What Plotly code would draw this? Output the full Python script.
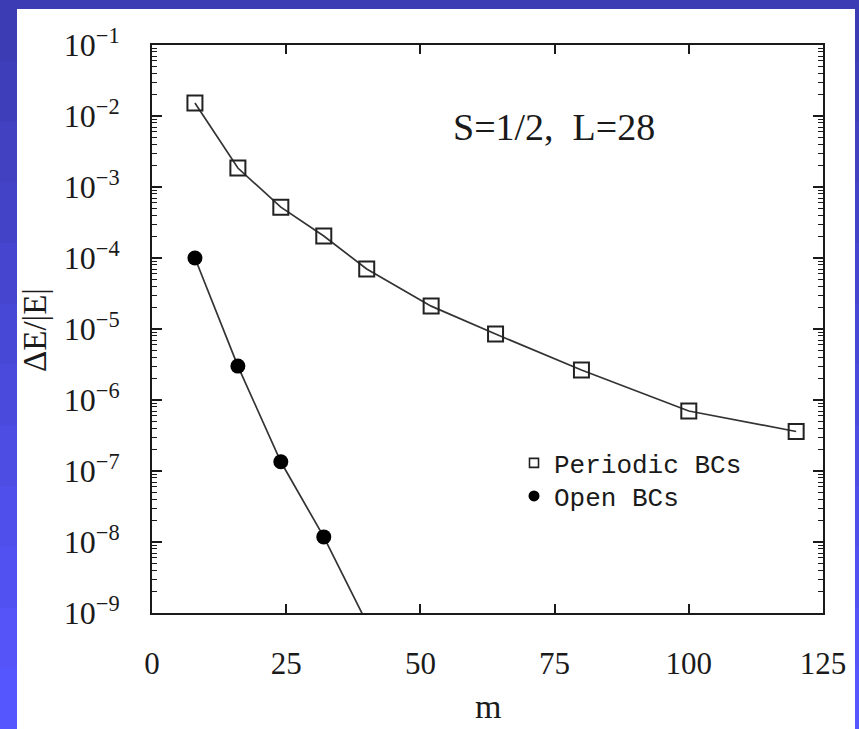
import plotly.graph_objects as go

# ---- data ----
m_periodic = [8, 16, 24, 32, 40, 52, 64, 80, 100, 120]
dE_periodic = [1.52e-2, 1.85e-3, 5.2e-4, 2.04e-4, 7.0e-5, 2.1e-5, 8.5e-6, 2.65e-6, 7.0e-7, 3.6e-7]

m_open = [8, 16, 24, 32, 40]
dE_open = [1.0e-4, 3.0e-6, 1.35e-7, 1.18e-8, 7.3e-10]

x_ticks = [0, 25, 50, 75, 100, 125]
y_exponents = [-1, -2, -3, -4, -5, -6, -7, -8, -9]
y_tickvals = [10.0 ** e for e in y_exponents]
y_ticktext = ["10<sup>\u2212%d</sup>" % (-e) for e in y_exponents]

series_names = ["Periodic BCs", "Open BCs"]
annotation_text = "S=1/2,  L=28"

# ---- layout geometry ----
W, H = 859, 729
ML, MR, MT, MB = 152, 36, 45, 116
PW, PH = W - ML - MR, H - MT - MB

def px_to_paper_x(px):
    return (px - ML) / PW

def px_to_paper_y(py):
    return (H - MB - py) / PH

serif = "Liberation Serif"
mono = "Liberation Mono"
ink = "#1a1a1a"

fig = go.Figure()

fig.add_trace(go.Scatter(
    x=m_periodic, y=dE_periodic, mode="lines+markers", name=series_names[0],
    showlegend=False,
    line=dict(color="#333333", width=1.7),
    marker=dict(symbol="square-open", size=15, color="#222222",
                line=dict(width=2, color="#222222")),
))
fig.add_trace(go.Scatter(
    x=m_open, y=dE_open, mode="lines+markers", name=series_names[1],
    showlegend=False,
    line=dict(color="#333333", width=1.7),
    marker=dict(symbol="circle", size=15, color="#000000"),
))
# legend entries (small symbols, no line, as in the reference)
fig.add_trace(go.Scatter(
    x=[None], y=[None], mode="markers", name=series_names[0], legend="legend",
    marker=dict(symbol="square-open", size=9, color="#222222",
                line=dict(width=1.6, color="#222222")),
))
fig.add_trace(go.Scatter(
    x=[None], y=[None], mode="markers", name=series_names[1], legend="legend2",
    marker=dict(symbol="circle", size=11, color="#000000"),
))

legend_common = dict(
    xanchor="left", yanchor="middle",
    bgcolor="rgba(0,0,0,0)", borderwidth=0,
    font=dict(family=mono, size=26, color=ink),
    itemsizing="trace",
)

# slide-style blue backdrop: vertical gradient in bands, then the white page
top_rgb, bot_rgb = (60, 60, 180), (86, 86, 255)
n_bands = 12
shapes = []
for i in range(n_bands):
    t = i / (n_bands - 1)
    c = tuple(round(a + (b - a) * t) for a, b in zip(top_rgb, bot_rgb))
    y_top = H * i / n_bands
    y_bot = H * (i + 1) / n_bands + 1
    shapes.append(dict(
        type="rect", xref="paper", yref="paper", layer="below",
        x0=px_to_paper_x(-2), x1=px_to_paper_x(W + 2),
        y0=px_to_paper_y(y_bot), y1=px_to_paper_y(y_top),
        fillcolor="rgb(%d,%d,%d)" % c, line=dict(width=0),
    ))
shapes.append(dict(
    type="rect", xref="paper", yref="paper", layer="below",
    x0=px_to_paper_x(17), x1=px_to_paper_x(855),
    y0=px_to_paper_y(735), y1=px_to_paper_y(9),
    fillcolor="white", line=dict(width=0),
))

fig.update_layout(
    width=W, height=H,
    margin=dict(l=ML, r=MR, t=MT, b=MB, autoexpand=False),
    paper_bgcolor="#4848d0",
    plot_bgcolor="white",
    font=dict(family=serif, color=ink),
    showlegend=True,
    legend=dict(x=px_to_paper_x(514), y=px_to_paper_y(463), **legend_common),
    legend2=dict(x=px_to_paper_x(514), y=px_to_paper_y(496), **legend_common),
    shapes=shapes,
    annotations=[
        dict(text=annotation_text, xref="paper", yref="paper",
             x=px_to_paper_x(554), y=px_to_paper_y(127),
             xanchor="center", yanchor="middle",
             showarrow=False, font=dict(family=serif, size=38, color=ink)),
        dict(text="m", xref="paper", yref="paper",
             x=px_to_paper_x(488), y=px_to_paper_y(706),
             xanchor="center", yanchor="middle",
             showarrow=False, font=dict(family=serif, size=34, color=ink)),
        dict(text="\u0394E/|E|", xref="paper", yref="paper",
             x=px_to_paper_x(35), y=px_to_paper_y(330), textangle=-90,
             xanchor="center", yanchor="middle",
             showarrow=False, font=dict(family=serif, size=33, color=ink)),
    ],
)

fig.update_xaxes(
    range=[0, 125], tickvals=x_ticks, ticks="inside", ticklen=9, tickwidth=1.5,
    tickcolor=ink, showline=True, linewidth=2, linecolor=ink, mirror="ticks",
    showgrid=False, zeroline=False,
    tickfont=dict(family=serif, size=31, color=ink), ticklabelstandoff=22,
)
fig.update_yaxes(
    type="log", range=[-9, -1], tickvals=y_tickvals, ticktext=y_ticktext,
    ticks="inside", ticklen=10, tickwidth=1.5, tickcolor=ink,
    showline=True, linewidth=2, linecolor=ink, mirror="ticks",
    showgrid=False, zeroline=False,
    minor=dict(ticks="inside", ticklen=5, tickwidth=1.2, tickcolor=ink,
               dtick="D1", showgrid=False),
    tickfont=dict(family=serif, size=32, color=ink), ticklabelstandoff=24,
)

fig.write_html(
    "out.html",
    config={"displayModeBar": False},
    post_script="document.body.style.margin='0px';document.body.style.overflow='hidden';",
)
